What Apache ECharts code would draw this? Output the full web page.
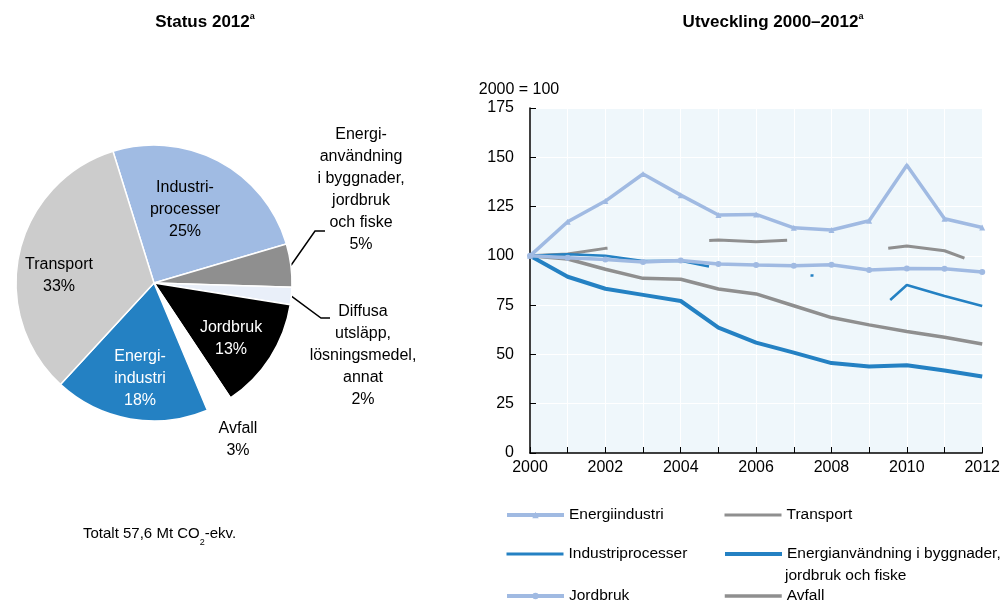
<!DOCTYPE html>
<html>
<head>
<meta charset="utf-8">
<script src="https://cdn.jsdelivr.net/npm/echarts@6/dist/echarts.min.js"></script>
<style>
html,body{margin:0;padding:0;background:#fff;}
#main{width:1003px;height:603px;}
</style>
</head>
<body>
<div id="main"></div>
<script>
// ---------- data ----------
const years = ['2000','2001','2002','2003','2004','2005','2006','2007','2008','2009','2010','2011','2012'];
const energiindustri    = [100, 117.3, 127.8, 141.5, 130.8, 120.7, 121.0, 114.2, 113.1, 117.8, 146.0, 118.8, 114.4];
const transport         = [100, 100.9, 103.8, 105.5, 107.3, 108.0, 107.2, 108.0, 106.0, 102.7, 105.0, 102.6, 95.5];
const industriprocesser = [100, 100.8, 100.1, 97.4, 97.5, 93.6, 92.0, 90.5, 89.5, 68.0, 85.2, 79.6, 74.6];
const energianvandning  = [100, 89.4, 83.3, 80.2, 77.1, 63.6, 56.0, 50.9, 45.6, 43.9, 44.5, 41.8, 38.8];
const jordbruk          = [100, 99.1, 98.2, 96.9, 97.6, 95.9, 95.4, 95.0, 95.5, 92.8, 93.6, 93.5, 91.8];
const avfall            = [100, 98.4, 93.2, 88.6, 88.1, 83.2, 80.7, 74.7, 68.7, 65.0, 61.6, 58.7, 55.3];
const yTicks = [0, 25, 50, 75, 100, 125, 150, 175];

const pieNames  = ['Industriprocesser', 'Energianvändning i byggnader, jordbruk och fiske', 'Diffusa utsläpp, lösningsmedel, annat', 'Jordbruk', 'Avfall', 'Energiindustri', 'Transport'];
const pieLabels = ['Industri-\nprocesser', 'Energi-\nanvändning\ni byggnader,\njordbruk\noch fiske', 'Diffusa\nutsläpp,\nlösningsmedel,\nannat', 'Jordbruk', 'Avfall', 'Energi-\nindustri', 'Transport'];
const pieValues = [25, 5, 2, 13, 3, 18, 33];

// ---------- styles / layout ----------
const FONT = '"Liberation Sans", Arial, sans-serif';
const LBLUE = '#A0BAE2', BLUE = '#2481C3', GREY = '#8F8F8F';
const pieColors = ['#A0BBE3', '#8F8F8F', '#E9EFF9', '#000000', '#FFFFFF', '#2481C3', '#CCCCCC'];
const pieTextColors = ['#000', '#000', '#000', '#fff', '#000', '#fff', '#000'];
const pieLabelPos = [[185, 210], [361, 190], [363, 356], [231, 339], [238, 440], [140, 379], [59, 276]];
// elbow + end points of the two leader lines (start comes from the library)
const leaderBends = { 1: [[315, 231], [325, 231]], 2: [[321, 318], [330, 318]] };

const chart = echarts.init(document.getElementById('main'));

function legendAt(name, left, top, hasSymbol, lw) {
  return {
    data: [name], left: left, top: top, padding: 0, itemWidth: 57, itemHeight: 8,
    textStyle: { fontFamily: FONT, fontSize: 15.5, color: '#000' },
    lineStyle: { type: 'solid', width: lw },
    itemStyle: hasSymbol ? {} : { opacity: 0 },
    selectedMode: false
  };
}

const option = {
  animation: false,
  textStyle: { fontFamily: FONT },
  title: [
    { text: '{t|Status 2012}{s|a}', left: 200, top: 7, textAlign: 'center',
      textStyle: { rich: { t: { fontFamily: FONT, fontSize: 17, fontWeight: 'bold', color: '#000' },
                           s: { fontFamily: FONT, fontSize: 9, fontWeight: 'bold', color: '#000', verticalAlign: 'top', lineHeight: 20 } } } },
    { text: '{t|Utveckling 2000–2012}{s|a}', left: 768, top: 7, textAlign: 'center',
      textStyle: { rich: { t: { fontFamily: FONT, fontSize: 17, fontWeight: 'bold', color: '#000' },
                           s: { fontFamily: FONT, fontSize: 9, fontWeight: 'bold', color: '#000', verticalAlign: 'top', lineHeight: 20 } } } },
    { text: '{t|Totalt 57,6 Mt CO}{s|2}{t|-ekv.}', left: 78, top: 516,
      textStyle: { fontWeight: 'normal',
                   rich: { t: { fontFamily: FONT, fontSize: 15, fontWeight: 'normal', color: '#000', lineHeight: 20 },
                           s: { fontFamily: FONT, fontSize: 9, fontWeight: 'normal', color: '#000', verticalAlign: 'bottom', lineHeight: 26 } } } }
  ],
  legend: [
    legendAt('Energiindustri', 505, 507, true, 4),
    legendAt('Industriprocesser', 505, 546, false, 3),
    legendAt('Jordbruk', 505, 588, true, 4),
    legendAt('Transport', 723, 507, false, 3),
    legendAt('Energianvändning i byggnader,', 723, 546, false, 4),
    legendAt('Avfall', 723, 588, false, 3.5)
  ],
  graphic: [
    { type: 'text', left: 785, top: 568, style: { text: 'jordbruk och fiske', font: '15.5px ' + FONT, fill: '#000' } }
  ],
  grid: { left: 530, right: 17, top: 108, bottom: 150, show: true, backgroundColor: '#EFF7FB', borderWidth: 0 },
  xAxis: {
    type: 'category', data: years, boundaryGap: false,
    axisLine: { lineStyle: { color: '#000', width: 1.5 } },
    axisTick: { inside: true, length: 6, interval: 0, lineStyle: { color: '#000' } },
    axisLabel: { interval: 1, color: '#000', fontSize: 16, fontFamily: FONT, margin: 7 },
    splitLine: { show: true, interval: 0, lineStyle: { color: '#FFFFFF', width: 1 } }
  },
  yAxis: {
    type: 'value', min: yTicks[0], max: yTicks[yTicks.length - 1], interval: 25,
    name: '2000 = 100', nameLocation: 'end', nameGap: 10,
    nameTextStyle: { color: '#000', fontSize: 16, fontFamily: FONT, align: 'center', padding: [0, 22, 0, 0] },
    axisLine: { show: true, lineStyle: { color: '#000', width: 1.5 } },
    axisTick: { show: true, inside: true, length: 6, lineStyle: { color: '#000' } },
    axisLabel: { color: '#000', fontSize: 16, fontFamily: FONT, margin: 16 },
    splitLine: { show: true, lineStyle: { color: '#FFFFFF', width: 1 } }
  },
  series: [
    { name: 'Avfall', type: 'line', data: avfall, showSymbol: false, symbol: 'none',
      lineStyle: { color: GREY, width: 3.5 }, itemStyle: { color: GREY } },
    { name: 'Energianvändning i byggnader,', type: 'line', data: energianvandning, showSymbol: false, symbol: 'none',
      lineStyle: { color: BLUE, width: 4 }, itemStyle: { color: BLUE } },
    { name: 'Transport', type: 'line', data: transport, showSymbol: false, symbol: 'none',
      lineStyle: { color: GREY, width: 3, type: [78, 102] }, itemStyle: { color: GREY } },
    { name: 'Industriprocesser', type: 'line', data: industriprocesser, showSymbol: false, symbol: 'none',
      lineStyle: { color: BLUE, width: 2.5, type: [180, 102, 3, 103] }, itemStyle: { color: BLUE } },
    { name: 'Jordbruk', type: 'line', data: jordbruk, symbol: 'circle', symbolSize: 6, showSymbol: true,
      lineStyle: { color: LBLUE, width: 3.5 }, itemStyle: { color: LBLUE } },
    { name: 'Energiindustri', type: 'line', data: energiindustri, symbol: 'triangle', symbolSize: 6, showSymbol: true,
      lineStyle: { color: LBLUE, width: 3.5 }, itemStyle: { color: LBLUE } },
    { name: 'Status 2012', type: 'pie', center: [154, 283], radius: [0, 138],
      startAngle: 107.3, clockwise: true, avoidLabelOverlap: false,
      itemStyle: { borderColor: '#fff', borderWidth: 1.5 },
      label: { show: true, fontFamily: FONT, fontSize: 16, lineHeight: 22, align: 'center' },
      labelLine: { show: false, lineStyle: { color: '#000', width: 1.5 } },
      labelLayout: function (p) {
        const pos = pieLabelPos[p.dataIndex];
        const res = { x: pos[0], y: pos[1], align: 'center', verticalAlign: 'middle' };
        const bends = leaderBends[p.dataIndex];
        if (bends && p.labelLinePoints && p.labelLinePoints.length) {
          res.labelLinePoints = [p.labelLinePoints[0]].concat(bends);
        }
        return res;
      },
      data: pieValues.map(function (v, i) {
        return {
          name: pieNames[i], value: v,
          itemStyle: { color: pieColors[i] },
          label: { formatter: pieLabels[i] + '\n' + v + '%', color: pieTextColors[i], position: (i === 1 || i === 2 || i === 4) ? 'outside' : 'inside' },
          labelLine: { show: i === 1 || i === 2, length: 10, length2: 10 }
        };
      })
    }
  ]
};
chart.setOption(option);
</script>
</body>
</html>
